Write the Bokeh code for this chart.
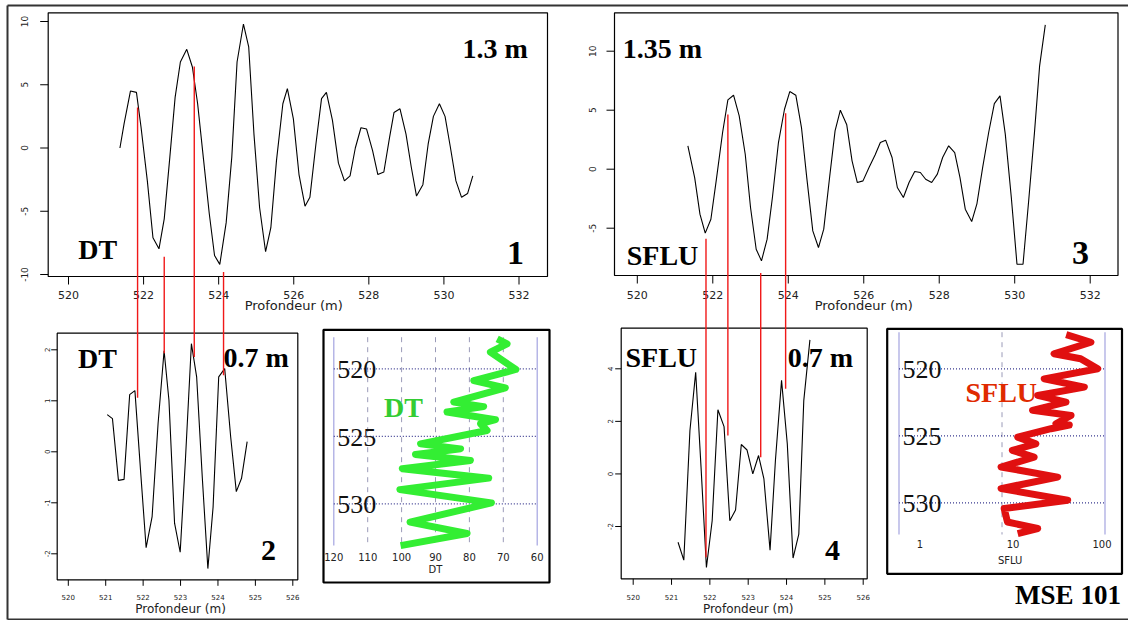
import math
from bokeh.plotting import figure
from bokeh.models import Range1d, LogScale
from bokeh.core.properties import value
from bokeh.embed import file_html
from bokeh.resources import INLINE

# ---------------- data ----------------
# Panel 1 : DT, 1.3 m
p1_depth = [521.37, 521.48, 521.65, 521.81, 521.93, 522.10, 522.25, 522.41, 522.55, 522.70,
            522.84, 522.98, 523.15, 523.30, 523.44, 523.60, 523.75, 523.89, 524.03, 524.20,
            524.35, 524.49, 524.66, 524.80, 524.94, 525.09, 525.25, 525.39, 525.54, 525.71,
            525.83, 525.99, 526.14, 526.30, 526.43, 526.59, 526.74, 526.87, 527.03, 527.19,
            527.35, 527.50, 527.64, 527.79, 527.94, 528.10, 528.24, 528.40, 528.55, 528.67,
            528.83, 528.99, 529.13, 529.27, 529.44, 529.58, 529.72, 529.88, 530.03, 530.17,
            530.32, 530.47, 530.63, 530.77]
p1_amp = [0.0, 1.9, 4.5, 4.4, 1.7, -2.6, -7.1, -7.97, -5.6, -0.7,
          4.0, 6.8, 7.8, 6.4, 3.5, -1.0, -5.2, -8.5, -9.2, -5.9,
          -0.7, 6.8, 9.8, 8.0, 1.1, -4.7, -8.2, -6.3, -1.0, 3.5,
          4.7, 2.3, -2.1, -4.6, -3.9, 0.3, 3.9, 4.4, 2.2, -1.2,
          -2.6, -2.2, 0.0, 1.6, 1.5, -0.2, -2.1, -1.9, 0.8, 2.8,
          3.1, 1.1, -1.5, -3.8, -2.9, 0.3, 2.5, 3.5, 2.5, 0.1,
          -2.6, -3.9, -3.6, -2.2]

# Panel 2 : DT, 0.7 m
p2_depth = [521.04, 521.18, 521.34, 521.49, 521.64, 521.78, 521.93, 522.08, 522.24, 522.40,
            522.56, 522.69, 522.84, 522.99, 523.13, 523.29, 523.43, 523.58, 523.73, 523.87,
            524.02, 524.18, 524.34, 524.49, 524.63, 524.78]
p2_amp = [0.73, 0.65, -0.56, -0.54, 1.12, 1.20, -0.36, -1.88, -1.27, 0.56,
          1.98, 1.01, -1.40, -1.97, -0.16, 2.12, 1.47, -0.49, -2.29, -1.08,
          1.47, 1.63, 0.29, -0.78, -0.52, 0.20]

# Panel 3 : SFLU, 1.35 m
p3_depth = [521.34, 521.52, 521.66, 521.80, 521.95, 522.09, 522.26, 522.40, 522.55, 522.70,
            522.86, 523.00, 523.15, 523.29, 523.44, 523.58, 523.74, 523.90, 524.04, 524.20,
            524.35, 524.49, 524.65, 524.80, 524.94, 525.10, 525.24, 525.38, 525.55, 525.69,
            525.83, 525.98, 526.14, 526.30, 526.44, 526.58, 526.75, 526.89, 527.05, 527.20,
            527.35, 527.50, 527.64, 527.80, 527.95, 528.09, 528.25, 528.41, 528.55, 528.69,
            528.86, 529.00, 529.15, 529.31, 529.46, 529.61, 529.75, 529.91, 530.06, 530.22,
            530.37, 530.52, 530.66, 530.81]
p3_amp = [1.98, -0.71, -3.81, -5.42, -4.24, -0.99, 3.11, 5.88, 6.27, 4.52,
          1.27, -3.25, -6.78, -7.77, -5.93, -2.40, 2.26, 5.08, 6.58, 6.27,
          3.53, -0.71, -5.23, -6.64, -5.08, -0.56, 3.25, 5.00, 3.76, 0.71,
          -1.13, -0.99, 0.14, 1.21, 2.26, 2.46, 0.99, -1.55, -2.40, -1.13,
          -0.20, -0.28, -0.85, -1.13, -0.42, 0.99, 1.98, 1.41, -0.71, -3.39,
          -4.44, -2.91, 0.14, 3.11, 5.56, 6.21, 2.97, -2.40, -8.05, -8.05,
          -2.68, 2.97, 8.76, 12.23]

# Panel 4 : SFLU, 0.7 m
p4_depth = [521.17, 521.32, 521.48, 521.63, 521.77, 521.91, 522.06, 522.21, 522.37, 522.52,
            522.67, 522.82, 522.97, 523.12, 523.27, 523.41, 523.57, 523.71, 523.87, 524.02,
            524.17, 524.32, 524.45, 524.61]
p4_amp = [-2.60, -3.28, 1.65, 3.87, 0.25, -3.56, -1.78, 2.44, 1.80, -1.78,
          -1.37, 1.12, 0.91, 0.00, 0.70, -0.19, -2.90, 0.51, 3.56, 1.14,
          -3.20, -2.29, 2.79, 5.10]

# Correlation lines (depth in upper panel, value in upper panel, value in lower panel)
dt_link_depth = [521.84, 522.55, 523.35, 524.13]
dt_link_top = [3.2, -8.6, 6.45, -9.8]
dt_link_bottom = [1.06, 1.93, 1.86, 1.50]
sf_link_depth = [521.82, 522.40, 523.27, 523.93]
sf_link_top = [-5.9, 4.64, -8.8, 4.75]
sf_link_bottom = [-3.17, 1.46, 0.63, 3.24]

# DT well log (us/ft) vs depth (m)
dt_log = [71.8, 68.9, 73.8, 66.3, 78.7, 69.4, 84.6, 75.8, 86.6, 72.3, 76.7, 74.8,
          94.4, 82.6, 95.9, 79.7, 99.8, 74.3, 100.5, 73.5, 97.5, 80.7, 100.3]
dt_log_depth = [517.78, 518.15, 518.77, 520.05, 520.87, 521.41, 522.47, 522.80, 523.20, 523.77,
                524.07, 524.57, 525.56, 525.93, 526.35, 526.79, 527.40, 528.10, 528.95, 529.93,
                531.36, 532.20, 533.10]

# SFLU well log (ohm.m) vs depth (m)
sf_log = [42.0, 73.0, 32.0, 58.0, 85.0, 25.7, 63.0, 22.2, 41.8, 19.8, 46.8, 33.4, 45.0,
          29.9, 14.2, 21.3, 12.6, 20.5, 9.8, 34.7, 9.8, 43.4, 10.5, 11.3, 22.2, 14.2]
sf_log_depth = [517.45, 518.02, 518.88, 519.25, 520.00, 520.75, 521.37, 521.99, 522.49, 523.10,
                523.48, 524.10, 524.20, 524.47, 525.10, 525.60, 526.09, 526.59, 527.33, 528.08,
                528.94, 529.81, 530.43, 531.43, 531.92, 532.30]

# ticks / labels
top_xticks = [520, 522, 524, 526, 528, 530, 532]
p1_yticks = [-10, -5, 0, 5, 10]
p3_yticks = [-5, 0, 5, 10]
bot_xticks = [520, 521, 522, 523, 524, 525, 526]
p2_yticks = [-2, -1, 0, 1, 2]
p4_yticks = [-2, 0, 2, 4]
dt_ticks = [120, 110, 100, 90, 80, 70, 60]
dt_grid = [110, 100, 90, 80, 70]
sf_ticks = [1, 10, 100]
sf_tick_labels = ["1", "10", "100"]
sf_grid = [10]
log_depth_ticks = [520, 525, 530]

# ---------------- layout (reference-pixel calibration) ----------------
W, H = 1128, 620
X0, Y0 = 0, 0
X1, Y1 = X0 + W, Y0 + H

CAL = {
    "p1": ((68.0, 520, 518.5, 532), (21.0, 10, 274.0, -10)),
    "p2": ((67.8, 520, 292.3, 526), (349.3, 2, 553.3, -2)),
    "p3": ((636.8, 520, 1089.7, 532), (50.7, 10, 227.7, -5)),
    "p4": ((632.7, 520, 862.7, 526), (368.3, 4, 526.0, -2)),
    "dt": ((333.3, 120, 536.7, 60), (368.3, 520, 503.3, 530)),
    "sf": ((898.5, 1, 1104.5, 100), (368.3, 520, 502.3, 530)),
}
LOGX = {"sf"}


def px2val(cal, px, log=False):
    p0, v0, p1, v1 = cal
    if log:
        l0, l1 = math.log10(v0), math.log10(v1)
        return 10 ** (l0 + (px - p0) * (l1 - l0) / (p1 - p0))
    return v0 + (px - p0) * (v1 - v0) / (p1 - p0)


def val2px(cal, v):
    p0, v0, p1, v1 = cal
    return p0 + (v - v0) * (p1 - p0) / (v1 - v0)


p = figure(width=W, height=H, x_range=Range1d(X0, X1), y_range=Range1d(Y1, Y0),
           output_backend="svg", toolbar_location=None,
           x_axis_location=None, y_axis_location=None, min_border=0)
p.outline_line_color = None
p.grid.grid_line_color = None
p.background_fill_color = "white"
p.border_fill_color = "white"

for k, (cx, cy) in CAL.items():
    lg = k in LOGX
    p.extra_x_ranges[k + "x"] = Range1d(px2val(cx, X0, lg), px2val(cx, X1, lg))
    p.extra_y_ranges[k + "y"] = Range1d(px2val(cy, Y1), px2val(cy, Y0))
p.extra_x_scales = {"sfx": LogScale()}

SANS = value("DejaVu Sans")
SERIF = value("Liberation Serif")


def R(k):
    return dict(x_range_name=k + "x", y_range_name=k + "y")


def rplot(k, box, xticks, yticks, depth, amp, fs_x, fs_y, fs_title, tlen, xoff, yoff, toff):
    cx, cy = CAL[k]
    left, top, right, bottom = box
    p.quad(left=[left], right=[right], top=[top], bottom=[bottom],
           fill_color=None, line_color="black", line_width=1.2)
    p.line(depth, amp, line_color="black", line_width=1.1, **R(k))
    n = len(xticks)
    yb = px2val(cy, bottom)
    yb2 = px2val(cy, bottom + tlen)
    p.segment(x0=xticks, x1=xticks, y0=[yb] * n, y1=[yb2] * n, line_color="black", line_width=1, **R(k))
    p.text(x=xticks, y=[yb] * n, text=[str(t) for t in xticks], y_offset=xoff,
           text_align="center", text_baseline="middle", text_font=SANS,
           text_font_size=f"{fs_x}px", text_color="#222222", **R(k))
    m = len(yticks)
    xl = px2val(cx, left)
    xl2 = px2val(cx, left - tlen)
    p.segment(x0=[xl] * m, x1=[xl2] * m, y0=yticks, y1=yticks, line_color="black", line_width=1, **R(k))
    p.text(x=[xl] * m, y=yticks, text=[str(t) for t in yticks], x_offset=-yoff, angle=math.pi / 2,
           text_align="center", text_baseline="middle", text_font=SANS,
           text_font_size=f"{fs_y}px", text_color="#222222", **R(k))
    p.text(x=[(xticks[0] + xticks[-1]) / 2], y=[yb], text=["Profondeur (m)"], y_offset=toff,
           text_align="center", text_baseline="middle", text_font=SANS,
           text_font_size=f"{fs_title}px", text_color="#222222", **R(k))


rplot("p1", (47.7, 12.3, 547.0, 276.0), top_xticks, p1_yticks, p1_depth, p1_amp, 11, 9, 13, 8, 18, 24, 29)
rplot("p3", (614.0, 12.3, 1117.5, 275.0), top_xticks, p3_yticks, p3_depth, p3_amp, 11, 9, 13, 8, 19, 22, 30)
rplot("p2", (56.7, 332.7, 297.3, 579.3), bot_xticks, p2_yticks, p2_depth, p2_amp, 7, 7, 12, 6, 17, 10, 29)
rplot("p4", (620.7, 327.7, 866.7, 578.3), bot_xticks, p4_yticks, p4_depth, p4_amp, 7, 7, 12, 6, 18, 11, 30)


# correlation lines: vertical, drawn in the upper panel's coordinates
def links(up, lo, depth, top_vals, bot_vals):
    cyu = CAL[up][1]
    cyl = CAL[lo][1]
    bot_in_up = [px2val(cyu, val2px(cyl, v)) for v in bot_vals]
    p.segment(x0=depth, x1=depth, y0=top_vals, y1=bot_in_up, line_color="#f01818",
              line_width=1.4, **R(up))


links("p1", "p2", dt_link_depth, dt_link_top, dt_link_bottom)
links("p3", "p4", sf_link_depth, sf_link_top, sf_link_bottom)


# ---------------- well log panels ----------------
def logpanel(k, outer, inner_top_px, inner_bot_px, xmin, xmax, grid, ticks, tick_labels, tick_offsets,
             title, title_off, lab_off, curve_x, curve_d, color, lab_x, depth_lab_off):
    cx, cy = CAL[k]
    left, top, right, bottom = outer
    p.quad(left=[left], right=[right], top=[top], bottom=[bottom],
           fill_color="white", line_color="black", line_width=2.2)
    dtop = px2val(cy, inner_top_px)
    dbot = px2val(cy, inner_bot_px)
    g = len(grid)
    p.segment(x0=grid, x1=grid, y0=[dtop] * g, y1=[dbot] * g, line_color="#9a9ab8",
              line_width=1, line_dash="5 5", **R(k))
    p.segment(x0=[xmin, xmax], x1=[xmin, xmax], y0=[dtop] * 2, y1=[dbot] * 2,
              line_color="#a4a4e0", line_width=1.2, **R(k))
    nd = len(log_depth_ticks)
    p.segment(x0=[xmin] * nd, x1=[xmax] * nd, y0=log_depth_ticks, y1=log_depth_ticks,
              line_color="#3a3a90", line_width=1.3, line_dash="1 2", **R(k))
    p.line(curve_x, curve_d, line_color=color, line_width=7, line_join="round", **R(k))
    p.text(x=ticks, y=[dbot] * len(ticks), text=tick_labels, x_offset=tick_offsets, y_offset=lab_off,
           text_align="center", text_baseline="middle", text_font=SANS, text_font_size="10px",
           text_color="#222222", **R(k))
    p.text(x=[lab_x], y=[dbot], text=[title], y_offset=title_off,
           text_align="center", text_baseline="middle", text_font=SANS, text_font_size="10px",
           text_color="#222222", **R(k))
    p.text(x=[xmin] * nd, y=log_depth_ticks, text=[str(v) for v in log_depth_ticks],
           x_offset=depth_lab_off, y_offset=1, text_align="center", text_baseline="middle",
           text_font=SERIF, text_font_size="26px", text_color="#111111", **R(k))


logpanel("dt", (323.0, 329.3, 549.0, 582.0), 336.7, 545.0, 120, 60, dt_grid, dt_ticks,
         [str(t) for t in dt_ticks], [0] * len(dt_ticks), "DT", 24, 11,
         dt_log, dt_log_depth, "#33ee33", 90, 23)
logpanel("sf", (886.7, 328.3, 1121.5, 573.3), 331.7, 534.0, 1, 100, sf_grid, sf_ticks,
         sf_tick_labels, [21, 11, -3], "SFLU", 26, 9,
         sf_log, sf_log_depth, "#e01010", 12, 23)

# ---------------- big labels ----------------
labels = [
    ("1.3 m", 494.6, 47.5, 28, "black"), ("DT", 97.3, 248.5, 28, "black"), ("1", 515.0, 252.0, 34, "black"),
    ("1.35 m", 662.0, 47.5, 28, "black"), ("SFLU", 662.0, 255.0, 28, "black"), ("3", 1080.0, 252.0, 34, "black"),
    ("DT", 97.0, 357.5, 28, "black"), ("0.7 m", 255.7, 357.0, 28, "black"), ("2", 268.0, 550.0, 30, "black"),
    ("SFLU", 660.8, 356.7, 28, "black"), ("0.7 m", 820.0, 356.7, 28, "black"), ("4", 832.0, 550.0, 30, "black"),
    ("DT", 403.0, 407.0, 28, "#33cc33"), ("SFLU", 1000.8, 391.7, 28, "#e02a00"),
    ("MSE 101", 1067.5, 594.0, 27, "black"),
]
for t, x, y, fs, c in labels:
    p.text(x=[x], y=[y], text=[t], text_align="center", text_baseline="middle",
           text_font=SERIF, text_font_style="bold", text_font_size=f"{fs}px", text_color=c)

# outer frame (top, left, bottom)
p.multi_line(xs=[[7, X1], [7, 7], [7, X1]], ys=[[5, 5], [5, 619], [619, 619]],
             line_color="#333333", line_width=2)

open("out.html", "w").write(file_html(p, INLINE))
